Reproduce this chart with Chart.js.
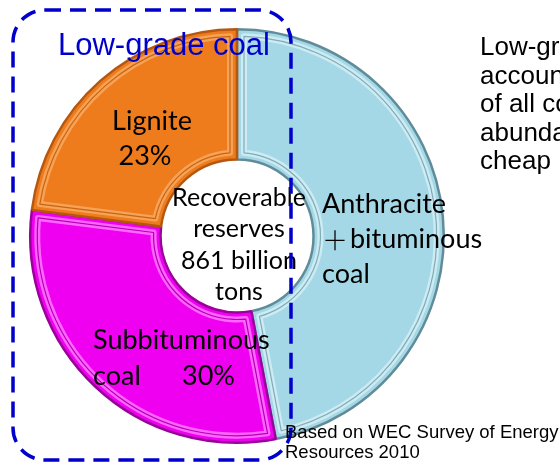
<!DOCTYPE html>
<html>
<head>
<meta charset="utf-8">
<script src="https://cdn.jsdelivr.net/npm/chart.js@4/dist/chart.umd.min.js"></script>
<style>
    html, body { margin: 0; padding: 0; background: #fff; }
    #wrap { position: relative; width: 560px; height: 466px; }
</style>
</head>
<body>
<div id="wrap"><canvas id="coalChart"></canvas></div>
<script>
const coalTypes = ['Anthracite + bituminous coal', 'Subbituminous coal', 'Lignite'];
const reserveShares = [47, 30, 23];
const totalReserves = '861 billion';

const fillColors = ['#a4d8e6', '#f000f0', '#ee7b1c'];
const edgeColors = ['#5f8c98', '#9a009a', '#b5570e'];
const bevelLight = ['#cdebf3', '#ff66ff', '#f6a257'];
const bevelDark = ['#80abb7', '#b400b4', '#c9650f'];

const labelFont = 'Lato, "Noto Sans", sans-serif';

function drawLines(ctx, lines, x, y0, step, align) {
    ctx.textAlign = align;
    lines.forEach((t, i) => ctx.fillText(t, x, y0 + i * step));
}

const bevelPlugin = {
    id: 'bevel',
    afterDatasetsDraw(chart) {
        const ctx = chart.ctx;
        chart.getDatasetMeta(0).data.forEach((arc, i) => {
            const p = arc.getProps(['x', 'y', 'startAngle', 'endAngle', 'innerRadius', 'outerRadius']);
            const d = 7;
            const ro = p.outerRadius - d, ri = p.innerRadius + d;
            ctx.save();
            ctx.beginPath();
            ctx.arc(p.x, p.y, ro, p.startAngle + d / ro, p.endAngle - d / ro);
            ctx.arc(p.x, p.y, ri, p.endAngle - d / ri, p.startAngle + d / ri, true);
            ctx.closePath();
            ctx.lineJoin = 'round';
            ctx.lineWidth = 6;
            ctx.strokeStyle = bevelLight[i];
            ctx.stroke();
            ctx.lineWidth = 1.2;
            ctx.strokeStyle = bevelDark[i];
            ctx.stroke();
            ctx.restore();
        });
    }
};

const notesPlugin = {
    id: 'notes',
    afterDraw(chart) {
        const ctx = chart.ctx;
        const arc = chart.getDatasetMeta(0).data[0];
        const cx = arc.x;
        ctx.save();
        ctx.textBaseline = 'alphabetic';
        ctx.fillStyle = '#000';

        // segment labels
        ctx.font = '27px ' + labelFont;
        ctx.textAlign = 'center';
        ctx.fillText('Lignite', 152, 130);
        ctx.fillText(reserveShares[2] + '%', 145, 165);
        drawLines(ctx, ['Subbituminous', 'coal'], 93, 349, 36, 'left');
        ctx.fillText(reserveShares[1] + '%', 182, 385);
        drawLines(ctx, ['Anthracite', '', 'coal'], 322, 213, 35, 'left');
        ctx.fillText('bituminous', 350, 248);
        ctx.font = '300 26px "Noto Sans CJK JP", sans-serif';
        ctx.fillText('＋', 322, 250);

        // centre text
        ctx.font = '25px ' + labelFont;
        drawLines(ctx, ['Recoverable', 'reserves', totalReserves, 'tons'], cx + 2, 206, 31.3, 'center');

        // dashed box around low-grade coal
        ctx.strokeStyle = '#0000cc';
        ctx.lineWidth = 3.5;
        ctx.setLineDash([16, 9]);
        ctx.beginPath();
        ctx.roundRect(13, 10, 278, 450, 32);
        ctx.stroke();
        ctx.setLineDash([]);

        ctx.fillStyle = '#0000cc';
        ctx.font = '31px "Liberation Sans", Arial, sans-serif';
        ctx.textAlign = 'left';
        ctx.fillText('Low-grade coal', 58, 55);

        ctx.fillStyle = '#000';
        ctx.font = '26px "Liberation Sans", Arial, sans-serif';
        drawLines(ctx, ['Low-grade coal', 'accounts for about', 'of all coal and is', 'abundant and', 'cheap'], 480, 55, 28.5, 'left');

        ctx.font = '18.5px "Liberation Sans", Arial, sans-serif';
        drawLines(ctx, ['Based on WEC Survey of Energy', 'Resources 2010'], 285, 438, 20, 'left');
        ctx.restore();
    }
};

new Chart(document.getElementById('coalChart'), {
    type: 'doughnut',
    data: {
        labels: coalTypes,
        datasets: [{
            data: reserveShares,
            backgroundColor: fillColors,
            borderColor: edgeColors,
            borderWidth: 2.5,
            hoverOffset: 0
        }]
    },
    options: {
        responsive: true,
        maintainAspectRatio: false,
        animation: false,
        events: [],
        cutout: '37%',
        layout: { padding: { left: 29, right: 115, top: 28, bottom: 22 } },
        plugins: {
            legend: { display: false },
            tooltip: { enabled: false }
        }
    },
    plugins: [bevelPlugin, notesPlugin]
});
</script>
</body>
</html>
